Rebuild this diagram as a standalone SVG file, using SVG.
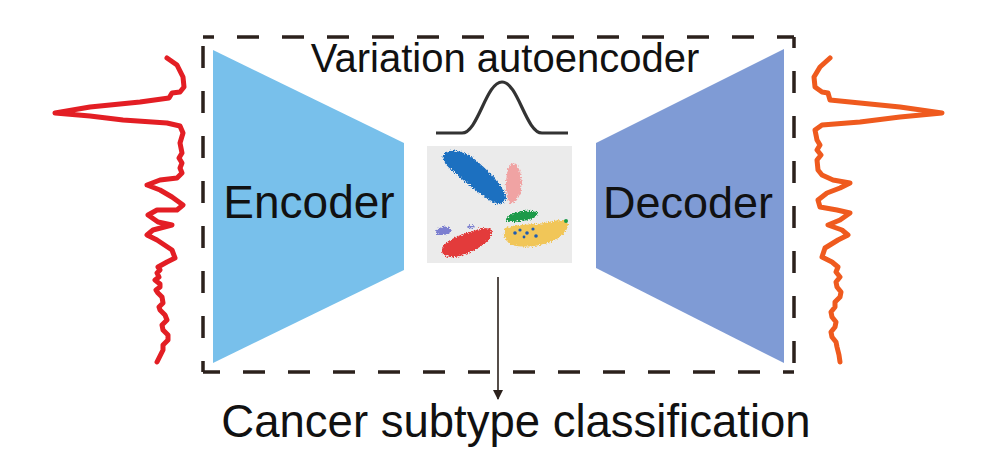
<svg xmlns="http://www.w3.org/2000/svg" width="993" height="458" viewBox="0 0 993 458">
<defs>
<style>
.lbl{font-family:"Liberation Sans",Arial,sans-serif;fill:#111;text-anchor:middle}
.dash{fill:none;stroke:#2b211c;stroke-width:3.5;stroke-dasharray:22 23;stroke-dashoffset:11}
.wave{fill:none;stroke-width:5;stroke-linejoin:round;stroke-linecap:round}
.blob{filter:url(#rough)}
</style>
<filter id="rough" x="-20%" y="-20%" width="140%" height="140%">
<feTurbulence type="fractalNoise" baseFrequency="0.7" numOctaves="2" seed="3" result="n"/>
<feDisplacementMap in="SourceGraphic" in2="n" scale="5" xChannelSelector="R" yChannelSelector="G"/>
</filter>
<marker id="ah" viewBox="0 0 10 10" refX="9" refY="5" markerWidth="10" markerHeight="10" markerUnits="userSpaceOnUse" orient="auto">
<path d="M0,0 L10,5 L0,10 Z" fill="#2b211c"/>
</marker>
</defs>
<rect width="993" height="458" fill="#fff"/>

<g id="vae-box">
<path class="dash" d="M203,37 H794"/>
<path class="dash" d="M794,37 V372"/>
<path class="dash" d="M794,372 H203"/>
<path class="dash" d="M203,372 V37"/>
</g>

<g id="encoder">
<polygon points="213,50 404,143 404,270 213,363" fill="#78c0eb"/>
<text class="lbl" x="309" y="218" font-size="46">Encoder</text>
</g>

<g id="decoder">
<polygon points="596,143 784,49 784,363 596,268" fill="#7f9bd5"/>
<text class="lbl" x="688" y="218" font-size="45">Decoder</text>
</g>

<g id="title">
<text class="lbl" x="505" y="72" font-size="40">Variation autoencoder</text>
</g>

<g id="latent">
<path d="M436,133 H462 C478,133 486,82 502,82 C518,82 526,133 542,133 H568" fill="none" stroke="#333" stroke-width="3.2"/>
<rect x="427" y="146" width="145" height="117" fill="#ebebeb"/>
<path class="blob" d="M445,153 C452,147 468,153 478,162 C490,172 503,186 506,197 C505,206 496,205 488,199 C478,192 462,180 452,170 C443,163 440,157 445,153 Z" fill="#1f6fc0"/>
<path class="blob" d="M513,163 C520,165 523,178 521,190 C519,200 513,206 509,202 C505,195 505,180 508,170 C509,166 511,163 513,163 Z" fill="#f0a3a3"/>
<path class="blob" d="M506,219 C510,212 525,209 537,212 C540,216 532,220 520,221 C512,223 505,222 506,219 Z" fill="#1a9a48"/>
<path class="blob" d="M506,228 C515,224 535,225 550,222 C560,219 569,219 568,226 C566,235 555,242 540,245 C525,248 510,247 506,240 C503,235 503,231 506,228 Z" fill="#f1c659"/>
<path class="blob" d="M442,248 C448,238 465,233 480,229 C490,226 495,230 490,238 C484,246 472,252 460,256 C450,259 440,256 442,248 Z" fill="#e33b3b"/>
<path class="blob" d="M436,231 C438,226 446,225 451,229 C452,233 446,235 440,235 C437,235 435,233 436,231 Z" fill="#7b7fd0"/>
<path class="blob" d="M467,226 C470,224 474,225 475,227 C473,229 469,229 467,226 Z" fill="#7b7fd0"/>
<g fill="#1f5cb0">
<circle cx="515" cy="233" r="1.8"/><circle cx="520" cy="230" r="1.6"/><circle cx="527" cy="233" r="1.8"/>
<circle cx="533" cy="229" r="1.6"/><circle cx="536" cy="236" r="1.8"/><circle cx="524" cy="237" r="1.4"/>
</g>
<circle cx="566" cy="221" r="2" fill="#1a9a48"/>
</g>

<g id="input-signal">
<polyline class="wave" stroke="#e31e24" points="167,58 177,65 183,77 184,87 180,92 172,93 169,98 140,102 90,107 55,113 90,116 123,120 167,123 180,126 183,133 180,143 182,153 179,158 182,163 180,168 182,173 177,178 160,180 147,185 160,190 172,197 183,205 177,210 157,210 148,215 158,222 172,225 153,230 147,235 157,240 172,250 175,258 167,262 158,267 160,270 157,273 159,277 155,280 160,284 160,287 156,290 158,293 162,297 163,303 159,307 160,310 165,315 167,320 162,325 163,330 168,335 168,340 163,345 163,350 160,356 157,362"/>
</g>

<g id="output-signal">
<polyline class="wave" stroke="#ef5a1e" points="830,58 820,67 814,77 815,87 822,92 828,93 830,100 860,103 900,107 942,113 900,117 860,122 822,125 815,130 817,140 820,145 817,150 821,155 817,160 818,170 822,175 833,180 850,183 840,188 827,193 818,200 820,207 837,210 850,213 840,220 828,225 842,230 848,235 838,240 825,248 822,257 832,262 838,267 836,272 840,277 836,282 837,287 841,292 840,297 835,302 835,307 831,312 832,317 836,322 835,327 831,332 832,337 836,342 837,347 839,355 840,362"/>
</g>

<g id="connectors">
<line x1="498" y1="277" x2="498" y2="399" stroke="#2b211c" stroke-width="1.6" marker-end="url(#ah)"/>
</g>

<g id="output-label">
<text class="lbl" x="516" y="437" font-size="45.5">Cancer subtype classification</text>
</g>
</svg>
